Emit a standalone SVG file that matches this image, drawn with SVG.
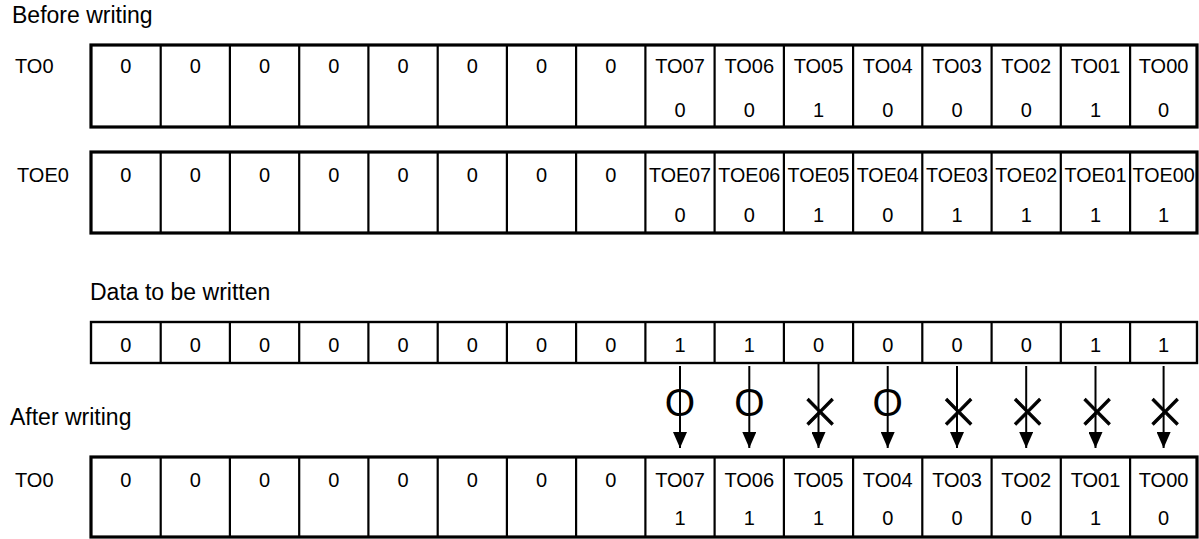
<svg xmlns="http://www.w3.org/2000/svg" width="1199" height="539" viewBox="0 0 1199 539">
<style>
text{font-family:"Liberation Sans",Arial,sans-serif;fill:#000}
.t{font-size:23px}
.c{font-size:20px;text-anchor:middle}
.l{font-size:20px}
.box{fill:none;stroke:#000;stroke-width:3.2}
.box2{fill:none;stroke:#000;stroke-width:2.4}
.div{stroke:#000;stroke-width:2.2}
.arr{stroke:#000;stroke-width:2;fill:none}
.o{font-size:39px;text-anchor:middle}
.x{font-family:"DejaVu Sans",sans-serif;font-weight:200;font-size:51px;text-anchor:middle;stroke:#000;stroke-width:0.9}
</style>
<defs>
<marker id="ah" markerUnits="userSpaceOnUse" markerWidth="16" markerHeight="14" refX="16" refY="7" orient="auto" viewBox="0 0 16 14">
<path d="M0,0 L16,7 L0,14 Z" fill="#000"/>
</marker>
</defs>

<g id="titles">
<text class="t" x="12" y="23">Before writing</text>
<text class="t" x="90" y="300">Data to be written</text>
<text class="t" x="10" y="425">After writing</text>
</g>

<g id="reg-TO0-before">
<text class="l" x="15" y="73">TO0</text>
<rect class="box" x="91" y="45" width="1106" height="82"/>
<path class="div" d="M160.7,45V127M229.9,45V127M299.2,45V127M368.4,45V127M437.7,45V127M506.9,45V127M576.1,45V127M645.4,45V127M714.6,45V127M783.9,45V127M853.1,45V127M922.3,45V127M991.6,45V127M1060.8,45V127M1130.1,45V127"/>
<text class="c" x="125.9" y="73">0</text>
<text class="c" x="195.3" y="73">0</text>
<text class="c" x="264.6" y="73">0</text>
<text class="c" x="333.8" y="73">0</text>
<text class="c" x="403.1" y="73">0</text>
<text class="c" x="472.3" y="73">0</text>
<text class="c" x="541.5" y="73">0</text>
<text class="c" x="610.8" y="73">0</text>
<text class="c" x="680" y="73">TO07</text>
<text class="c" x="749.3" y="73">TO06</text>
<text class="c" x="818.5" y="73">TO05</text>
<text class="c" x="887.7" y="73">TO04</text>
<text class="c" x="957" y="73">TO03</text>
<text class="c" x="1026.2" y="73">TO02</text>
<text class="c" x="1095.5" y="73">TO01</text>
<text class="c" x="1163.6" y="73">TO00</text>
<text class="c" x="680" y="117">0</text>
<text class="c" x="749.3" y="117">0</text>
<text class="c" x="818.5" y="117">1</text>
<text class="c" x="887.7" y="117">0</text>
<text class="c" x="957" y="117">0</text>
<text class="c" x="1026.2" y="117">0</text>
<text class="c" x="1095.5" y="117">1</text>
<text class="c" x="1163.6" y="117">0</text>
</g>

<g id="reg-TOE0-before">
<text class="l" x="17" y="182">TOE0</text>
<rect class="box" x="91" y="152" width="1106" height="81"/>
<path class="div" d="M160.7,152V233M229.9,152V233M299.2,152V233M368.4,152V233M437.7,152V233M506.9,152V233M576.1,152V233M645.4,152V233M714.6,152V233M783.9,152V233M853.1,152V233M922.3,152V233M991.6,152V233M1060.8,152V233M1130.1,152V233"/>
<text class="c" x="125.9" y="182">0</text>
<text class="c" x="195.3" y="182">0</text>
<text class="c" x="264.6" y="182">0</text>
<text class="c" x="333.8" y="182">0</text>
<text class="c" x="403.1" y="182">0</text>
<text class="c" x="472.3" y="182">0</text>
<text class="c" x="541.5" y="182">0</text>
<text class="c" x="610.8" y="182">0</text>
<text class="c" x="680" y="182" textLength="62" lengthAdjust="spacingAndGlyphs">TOE07</text>
<text class="c" x="749.3" y="182" textLength="62" lengthAdjust="spacingAndGlyphs">TOE06</text>
<text class="c" x="818.5" y="182" textLength="62" lengthAdjust="spacingAndGlyphs">TOE05</text>
<text class="c" x="887.7" y="182" textLength="62" lengthAdjust="spacingAndGlyphs">TOE04</text>
<text class="c" x="957" y="182" textLength="62" lengthAdjust="spacingAndGlyphs">TOE03</text>
<text class="c" x="1026.2" y="182" textLength="62" lengthAdjust="spacingAndGlyphs">TOE02</text>
<text class="c" x="1095.5" y="182" textLength="62" lengthAdjust="spacingAndGlyphs">TOE01</text>
<text class="c" x="1163.6" y="182" textLength="62" lengthAdjust="spacingAndGlyphs">TOE00</text>
<text class="c" x="680" y="222">0</text>
<text class="c" x="749.3" y="222">0</text>
<text class="c" x="818.5" y="222">1</text>
<text class="c" x="887.7" y="222">0</text>
<text class="c" x="957" y="222">1</text>
<text class="c" x="1026.2" y="222">1</text>
<text class="c" x="1095.5" y="222">1</text>
<text class="c" x="1163.6" y="222">1</text>
</g>

<g id="reg-data">
<rect class="box2" x="91" y="322" width="1106" height="41"/>
<path class="div" d="M160.7,322V363M229.9,322V363M299.2,322V363M368.4,322V363M437.7,322V363M506.9,322V363M576.1,322V363M645.4,322V363M714.6,322V363M783.9,322V363M853.1,322V363M922.3,322V363M991.6,322V363M1060.8,322V363M1130.1,322V363"/>
<text class="c" x="125.9" y="352">0</text>
<text class="c" x="195.3" y="352">0</text>
<text class="c" x="264.6" y="352">0</text>
<text class="c" x="333.8" y="352">0</text>
<text class="c" x="403.1" y="352">0</text>
<text class="c" x="472.3" y="352">0</text>
<text class="c" x="541.5" y="352">0</text>
<text class="c" x="610.8" y="352">0</text>
<text class="c" x="680" y="352">1</text>
<text class="c" x="749.3" y="352">1</text>
<text class="c" x="818.5" y="352">0</text>
<text class="c" x="887.7" y="352">0</text>
<text class="c" x="957" y="352">0</text>
<text class="c" x="1026.2" y="352">0</text>
<text class="c" x="1095.5" y="352">1</text>
<text class="c" x="1163.6" y="352">1</text>
</g>

<g id="reg-TO0-after">
<text class="l" x="15" y="487">TO0</text>
<rect class="box" x="91" y="457" width="1106" height="80"/>
<path class="div" d="M160.7,457V537M229.9,457V537M299.2,457V537M368.4,457V537M437.7,457V537M506.9,457V537M576.1,457V537M645.4,457V537M714.6,457V537M783.9,457V537M853.1,457V537M922.3,457V537M991.6,457V537M1060.8,457V537M1130.1,457V537"/>
<text class="c" x="125.9" y="487">0</text>
<text class="c" x="195.3" y="487">0</text>
<text class="c" x="264.6" y="487">0</text>
<text class="c" x="333.8" y="487">0</text>
<text class="c" x="403.1" y="487">0</text>
<text class="c" x="472.3" y="487">0</text>
<text class="c" x="541.5" y="487">0</text>
<text class="c" x="610.8" y="487">0</text>
<text class="c" x="680" y="487">TO07</text>
<text class="c" x="749.3" y="487">TO06</text>
<text class="c" x="818.5" y="487">TO05</text>
<text class="c" x="887.7" y="487">TO04</text>
<text class="c" x="957" y="487">TO03</text>
<text class="c" x="1026.2" y="487">TO02</text>
<text class="c" x="1095.5" y="487">TO01</text>
<text class="c" x="1163.6" y="487">TO00</text>
<text class="c" x="680" y="525">1</text>
<text class="c" x="749.3" y="525">1</text>
<text class="c" x="818.5" y="525">1</text>
<text class="c" x="887.7" y="525">0</text>
<text class="c" x="957" y="525">0</text>
<text class="c" x="1026.2" y="525">0</text>
<text class="c" x="1095.5" y="525">1</text>
<text class="c" x="1163.6" y="525">0</text>
</g>

<g id="connectors">
<line class="arr" x1="680" y1="366" x2="680" y2="448" marker-end="url(#ah)"/>
<line class="arr" x1="749.3" y1="366" x2="749.3" y2="448" marker-end="url(#ah)"/>
<line class="arr" x1="818.5" y1="364" x2="818.5" y2="448" marker-end="url(#ah)"/>
<line class="arr" x1="887.7" y1="366" x2="887.7" y2="448" marker-end="url(#ah)"/>
<line class="arr" x1="957" y1="366" x2="957" y2="448" marker-end="url(#ah)"/>
<line class="arr" x1="1026.2" y1="366" x2="1026.2" y2="448" marker-end="url(#ah)"/>
<line class="arr" x1="1095.5" y1="366" x2="1095.5" y2="448" marker-end="url(#ah)"/>
<line class="arr" x1="1163.6" y1="366" x2="1163.6" y2="448" marker-end="url(#ah)"/>
</g>

<g id="marks">
<text class="o" x="680" y="416">O</text>
<text class="o" x="749.3" y="416">O</text>
<text class="x" x="820" y="428">×</text>
<text class="o" x="887.7" y="416">O</text>
<text class="x" x="958.5" y="428">×</text>
<text class="x" x="1027.7" y="428">×</text>
<text class="x" x="1097" y="428">×</text>
<text class="x" x="1165" y="428">×</text>
</g>
</svg>
